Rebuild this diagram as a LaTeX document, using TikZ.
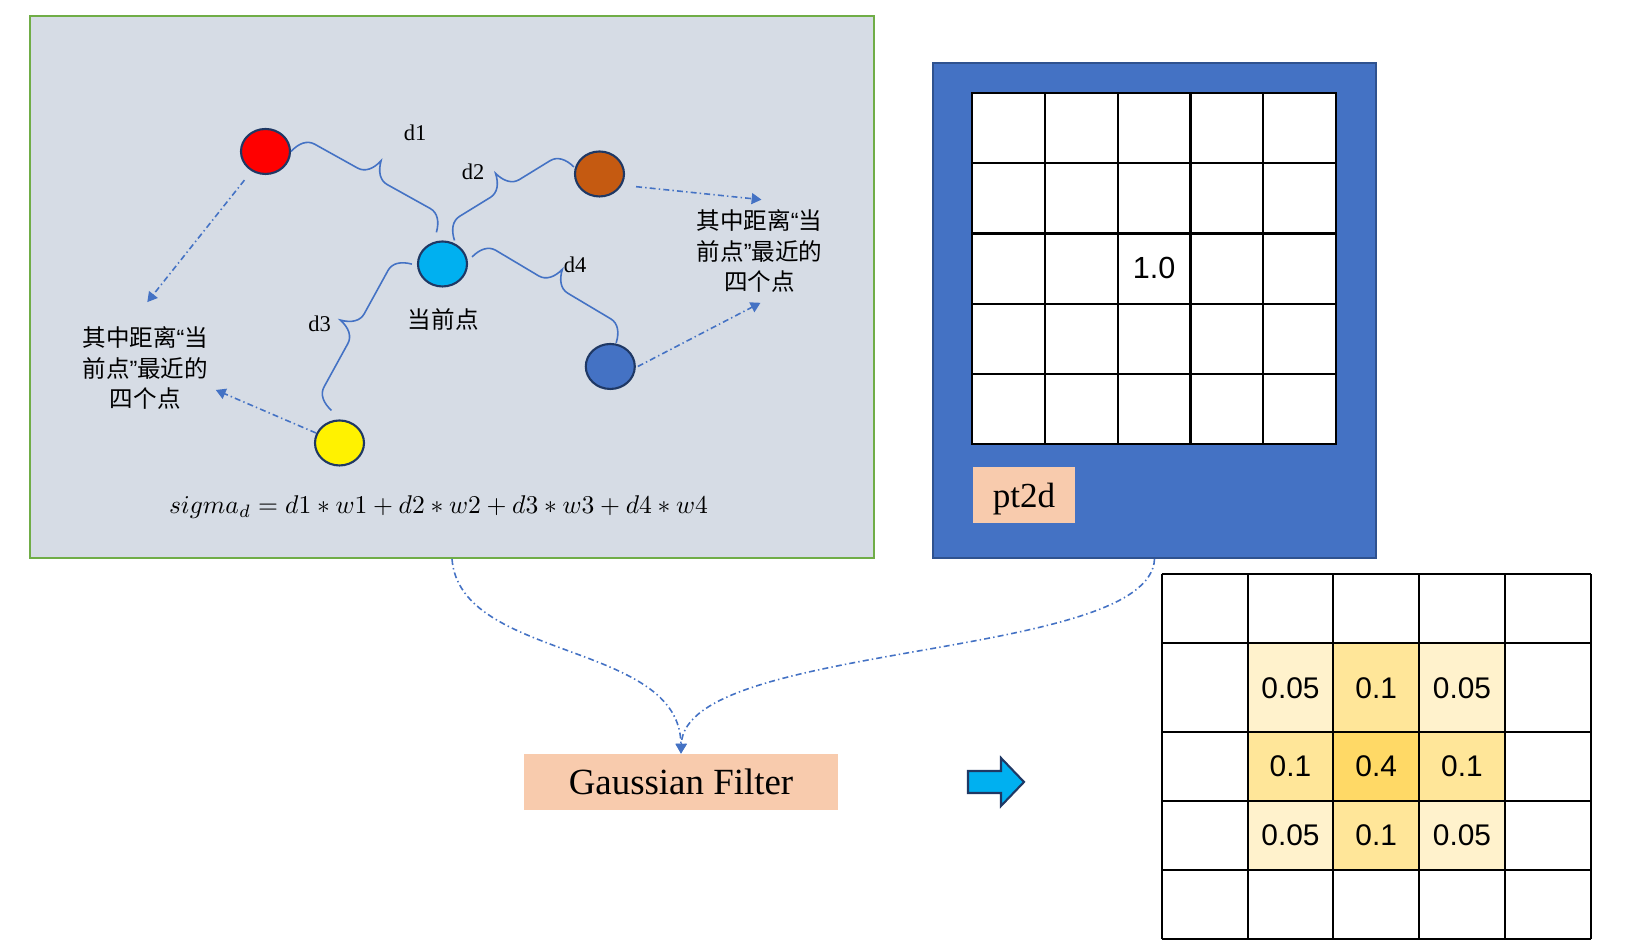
\documentclass[tikz,border=0pt]{standalone}
\usepackage{graphicx}
\usepackage{fontspec}
\setmainfont{Liberation Serif}
\newfontfamily\cjk{Noto Sans CJK SC}
\newfontfamily\arial{Liberation Sans}
\newcommand\qopen{{\arial “}}
\newcommand\qclose{{\arial ”}}
\usetikzlibrary{shapes.geometric,decorations.pathreplacing,arrows.meta}
\definecolor{scenebg}{HTML}{D6DCE5}
\definecolor{scenegreen}{HTML}{70AD47}
\definecolor{ofblue}{HTML}{4472C4}
\definecolor{ofnavy}{HTML}{2F528F}
\definecolor{ofdark}{HTML}{1F3864}
\definecolor{salmon}{HTML}{F8CBAD}
\definecolor{ptorange}{HTML}{C55A11}
\definecolor{ptcyan}{HTML}{00B0F0}
\definecolor{ylow}{HTML}{FFF2CC}
\definecolor{ymid}{HTML}{FFE699}
\definecolor{yhigh}{HTML}{FFD966}
\tikzset{
  pnt/.style={ellipse,draw=ofdark,line width=0.6pt,minimum width=0.49cm,minimum height=0.45cm,inner sep=0pt},
  dist/.style={draw=ofblue,line width=0.45pt,decorate,decoration={brace,amplitude=0.17cm,transform={yscale=2.1}}},
  hint/.style={ofblue,line width=0.45pt,dash pattern=on 1.7pt off 0.9pt on 0.4pt off 0.9pt,-{Triangle[length=2.8pt,width=3.1pt]}},
  lbl/.style={font=\fontsize{6.4}{7}\selectfont,inner sep=0pt},
  note/.style={font=\cjk\fontsize{6.7}{8.6}\selectfont,align=center,inner sep=0pt},
  tag/.style={fill=salmon,inner sep=0pt},
  cellk/.style={minimum width=0.857cm,inner sep=0pt,font=\arial\fontsize{8.5}{10}\selectfont}
}
\begin{document}
\begin{tikzpicture}
\useasboundingbox (0,0) rectangle (16.30,9.51);
\node[draw=scenegreen,fill=scenebg,line width=0.6pt,minimum width=8.44cm,minimum height=5.42cm] (scene) at (4.52,6.64) {};
\node[draw=ofnavy,fill=ofblue,line width=0.6pt,minimum width=4.43cm,minimum height=4.95cm] (map) at (11.545,6.405) {};

\node[pnt,fill=red] (red) at (2.655,7.995) {};
\node[pnt,fill=ptorange] (org) at (5.995,7.77) {};
\node[pnt,fill=ptcyan] (cur) at (4.425,6.87) {};
\node[pnt,fill=ofblue] (blu) at (6.103,5.845) {};
\node[pnt,fill=yellow] (yel) at (3.395,5.08) {};

\draw[dist] (red.east) -- ([shift={(-0.06,0.08)}]cur.north);
\draw[dist] ([xshift=0.12cm]cur.north) -- ([yshift=0.07cm]org.west);
\draw[dist] ([shift={(-0.08,0.09)}]yel.north) -- ([xshift=-0.05cm]cur.west);
\draw[dist] ([shift={(0.04,0.07)}]cur.east) -- ([xshift=0.06cm]blu.north);
\node[lbl] (d1) at (4.15,8.18) {d1};
\node[lbl] (d2) at (4.73,7.79) {d2};
\node[lbl] (d3) at (3.195,6.27) {d3};
\node[lbl] (d4) at (5.75,6.865) {d4};

\node[note] (now) at (4.433,6.31) {当前点};
\node[note] (near1) at (1.453,5.83) {其中距离\qopen 当\\前点\qclose 最近的\\四个点};
\node[note] (near2) at (7.595,7.00) {其中距离\qopen 当\\前点\qclose 最近的\\四个点};
\draw[hint] ([shift={(-0.03,-0.12)}]red.south west) -- ([shift={(0.02,0.24)}]near1.north);
\draw[hint] ([shift={(0.02,0.10)}]yel.west) -- ([shift={(0.07,-0.22)}]near1.east);
\draw[hint] ([shift={(0.11,-0.127)}]org.east) -- ([shift={(0.02,0.095)}]near2.north);
\draw[hint] ([xshift=0.02cm]blu.east) -- ([shift={(0.01,-0.10)}]near2.south);

\node[anchor=base,inner sep=0pt] (sig) at (4.385,4.377) {\resizebox{5.39cm}{!}{$sigma_d = d1 * w1 + d2 * w2 + d3 * w3 + d4 * w4$}};

\begin{scope}[shift={(9.723,5.07)},xscale=0.7274,yscale=0.7014]
\filldraw[fill=white,line width=0.6pt] (0,0) rectangle (5,5);
\draw[line width=0.6pt] (0,0) grid (5,5);
\end{scope}
\node[font=\arial\fontsize{8.7}{10}\selectfont] (one) at (11.54,6.827) {1.0};
\node[tag,minimum width=1.02cm,minimum height=0.56cm,text depth=0pt,font=\fontsize{10}{12}\selectfont] (pt2d) at (10.24,4.56) {pt2d};

\node[tag,minimum width=3.14cm,minimum height=0.553cm,font=\fontsize{10.5}{12}\selectfont] (gauss) at (6.81,1.69) {Gaussian Filter};
\draw[hint] (scene.south) .. controls (4.6,2.9) and (6.8,3.1) .. (gauss.north);
\draw[hint] (map.south) .. controls (11.5,2.9) and (6.85,3.1) .. (gauss.north);

\draw[fill=ptcyan,draw=ofdark,line width=0.6pt] (9.68,1.80) -- (10.01,1.80) -- (10.01,1.93) -- (10.24,1.69) -- (10.01,1.45) -- (10.01,1.58) -- (9.68,1.58) -- cycle;

\foreach \cx/\cy/\h/\c/\v/\nm in {12.905/2.632/0.89/ylow/0.05/a,13.762/2.632/0.89/ymid/0.1/b,14.62/2.632/0.89/ylow/0.05/c,
  12.905/1.845/0.684/ymid/0.1/d,13.762/1.845/0.684/yhigh/0.4/e,14.62/1.845/0.684/ymid/0.1/f,
  12.905/1.157/0.693/ylow/0.05/g,13.762/1.157/0.693/ymid/0.1/h,14.62/1.157/0.693/ylow/0.05/i}
  \node[cellk,fill=\c,minimum height=\h cm] (k\nm) at (\cx,\cy) {\v};
\foreach \y in {3.767,3.077,2.187,1.503,0.81,0.117}
  \draw[line width=0.6pt] (11.617,\y) -- (15.907,\y);
\foreach \x in {11.617,12.477,13.333,14.19,15.05,15.907}
  \draw[line width=0.6pt] (\x,0.117) -- (\x,3.767);
\end{tikzpicture}
\end{document}
